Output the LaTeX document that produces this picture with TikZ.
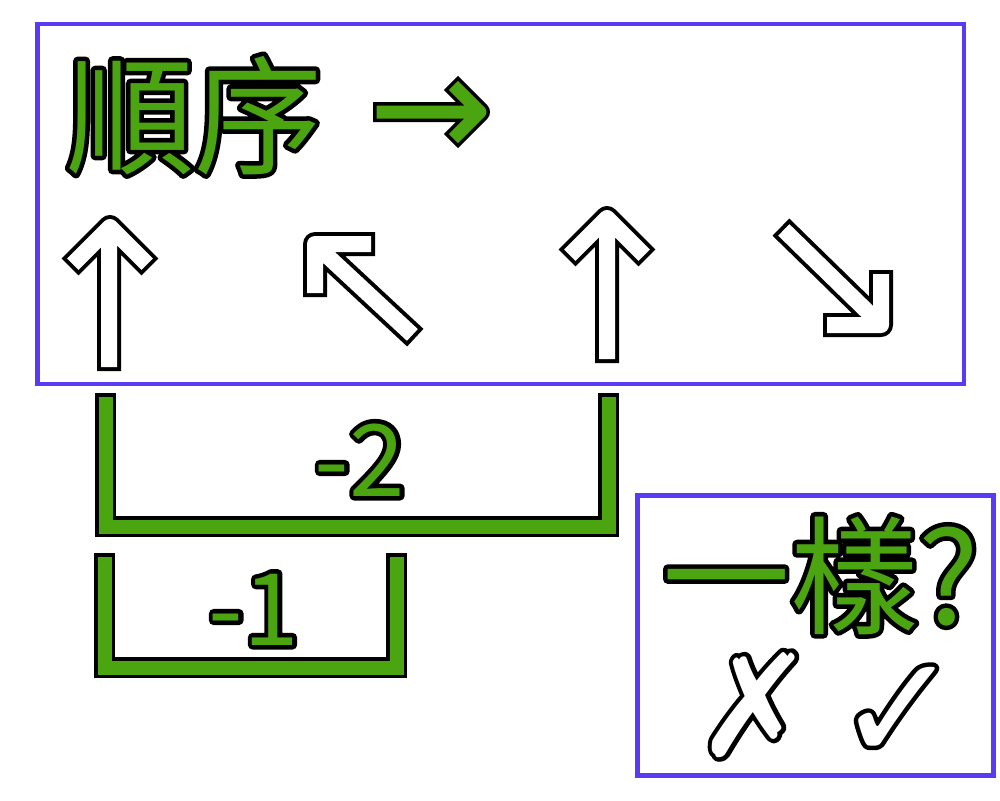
\documentclass[tikz,border=0pt]{standalone}
\usepackage{fontspec}
\newfontfamily\cjk{Noto Sans CJK TC}
\newfontfamily\sym{DejaVu Sans}
\definecolor{gr}{RGB}{75,165,17}
\definecolor{bl}{RGB}{91,58,243}
% outlined text: fill colour #1, outline width #2 (twice the visible rim), text #3
\newcommand\outl[3]{{\rlap{\color{black}\special{pdf:literal direct #2 w 1 j 2 Tr}#3\special{pdf:literal direct 0 Tr}}\color{#1}#3}}
\tikzset{
  frame/.style={draw=bl, line width=4.5pt},
  brk/.style={draw=black, line width=3.5pt, double=gr, double distance=14pt, line cap=rect, line join=miter},
  warrow/.style={draw=black, line width=4pt, double=white, double distance=16pt, line cap=rect, line join=round},
  garrow/.style={draw=black, line width=3.5pt, double=gr, double distance=13pt, line cap=rect, line join=round},
  lbl/.style={inner sep=0pt, outer sep=0pt},
}
\begin{document}
\begin{tikzpicture}[x=1pt,y=-1pt]
\useasboundingbox (0,0) rectangle (1000,800);
\fill[white] (0,0) rectangle (1000,800);
% frames
\draw[frame] (37.25,24.25) rectangle (963.75,383.75);
\draw[frame] (637.5,495.5) rectangle (993.5,775.5);
% title
\node[lbl, anchor=base west] (title) at (66,164)
  {\fontsize{128}{140}\selectfont\cjk\outl{gr}{9}{順序}};
\coordinate (ga0) at (383,112);
\coordinate (ga1) at (470,112);
\coordinate (gt) at (480,112);
\coordinate (gh1) at (458,90);
\coordinate (gh2) at (458,134);
\draw[garrow] (ga0) -- (ga1) (gh1) -- (gt) -- (gh2);
% up arrow 1
\coordinate (u1b) at (109,359);
\coordinate (u1s) at (109,240);
\coordinate (u1t) at (110,227);
\coordinate (u1l) at (78.5,258.5);
\coordinate (u1r) at (141.5,258.5);
\draw[warrow] (u1b) -- (u1s) (u1l) -- (u1t) -- (u1r);
% up-left arrow
\coordinate (ulc) at (315,244);
\coordinate (uls) at (322,251);
\coordinate (ulh) at (363,244);
\coordinate (ulv) at (315,285);
\coordinate (ule) at (406.5,329.5);
\draw[warrow] (ulh) -- (ulc) -- (ulv) (uls) -- (ule);
% up arrow 2
\coordinate (u2b) at (607,351);
\coordinate (u2s) at (607,231);
\coordinate (u2t) at (607,218);
\coordinate (u2l) at (575.5,249.5);
\coordinate (u2r) at (638.5,249.5);
\draw[warrow] (u2b) -- (u2s) (u2l) -- (u2t) -- (u2r);
% down-right arrow
\coordinate (drs) at (789.5,235.5);
\coordinate (dre) at (874,318);
\coordinate (drc) at (881,325);
\coordinate (drv) at (881,282);
\coordinate (drh) at (835,325);
\draw[warrow] (drv) -- (drc) -- (drh) (drs) -- (dre);
% brackets
\coordinate (b2a) at (105.5,403.5);
\coordinate (b2b) at (105.5,526.5);
\coordinate (b2c) at (608.5,526.5);
\coordinate (b2d) at (608.5,403.5);
\draw[brk] (b2a) -- (b2b) -- (b2c) -- (b2d);
\node[lbl, anchor=base] (m2) at (360,496)
  {\fontsize{100}{110}\selectfont\cjk\outl{gr}{9}{-2}};
\coordinate (b1a) at (104.5,563.5);
\coordinate (b1b) at (104.5,667.5);
\coordinate (b1c) at (396.5,667.5);
\coordinate (b1d) at (396.5,563.5);
\draw[brk] (b1a) -- (b1b) -- (b1c) -- (b1d);
\node[lbl, anchor=base] (m1) at (254,645)
  {\fontsize{100}{110}\selectfont\cjk\outl{gr}{9}{-1}};
% same?
\node[lbl, anchor=base west] (same) at (662,624)
  {\fontsize{128}{140}\selectfont\cjk\outl{gr}{9}{一樣?}};
\node[lbl, anchor=base] (cross) at (755,756)
  {\fontsize{142}{150}\selectfont\sym\outl{white}{9}{✗}};
\node[lbl, anchor=base] (check) at (898,760)
  {\fontsize{148}{156}\selectfont\sym\outl{white}{9}{✓}};
\end{tikzpicture}
\end{document}
